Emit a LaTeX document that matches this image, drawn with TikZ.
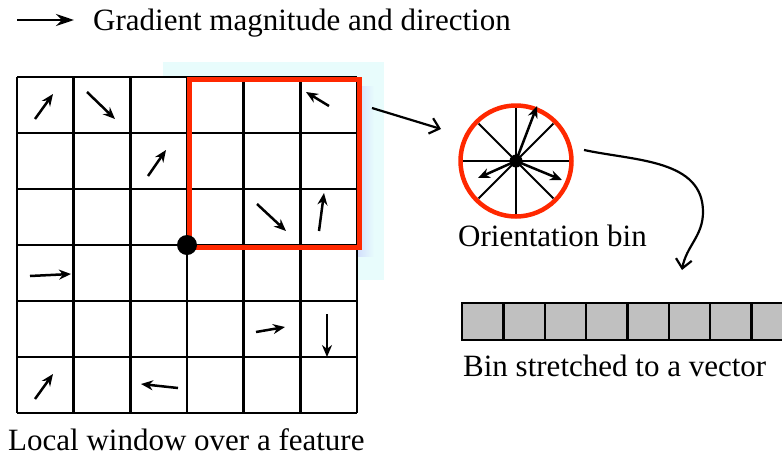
\documentclass[tikz,border=0pt]{standalone}
\usepackage{fontspec}
\setmainfont{Liberation Serif}
\usetikzlibrary{arrows.meta}
\definecolor{boxred}{RGB}{255,40,0}
\definecolor{bgcyan}{RGB}{232,252,252}
\definecolor{shadowblue}{RGB}{210,222,252}
\definecolor{binfill}{RGB}{192,192,192}
\begin{document}
\begin{tikzpicture}[x=1pt,y=-1pt,
  lbl/.style={font=\fontsize{31}{36}\selectfont, inner sep=0, anchor=base west},
  grad/.style={line width=2.5, -{Stealth[length=12,width=10]}},
  gridline/.style={line width=2.6},
  flow/.style={line width=2.2, -{Straight Barb[length=9,width=16]}},
  binbox/.style={draw, fill=binfill, line width=2.4, minimum width=41.3, minimum height=37, inner sep=0, anchor=north west}]
\useasboundingbox (0,0) rectangle (782,456);
\begin{scope}
\clip (0,0) rectangle (782,456);
% legend
\coordinate (lgs) at (17,20);
\coordinate (lge) at (74,20);
\draw[line width=2.6, -{Stealth[length=18,width=12]}] (lgs) -- (lge);
\node[lbl] (legend) at (93,30) {Gradient magnitude and direction};
% background highlight
\fill[bgcyan] (163,62) rectangle (384,280);
\shade[left color=shadowblue, right color=bgcyan] (357,86) rectangle (374,256);
% grid
\fill[white] (17,77) rectangle (357,413);
\foreach \i in {0,...,6} {
  \draw[gridline] ({17+\i*56.67},77) -- ({17+\i*56.67},413);
  \draw[gridline] (17,{77+\i*56}) -- (357,{77+\i*56});
}
% gradient arrows
\draw[grad] (35,119) -- (53,94);
\draw[grad] (87,92) -- (115,119);
\draw[grad] (329,106) -- (306,92);
\draw[grad] (148,176) -- (166,150);
\draw[grad] (257,204) -- (286,231);
\draw[grad] (319,231) -- (324,193);
\draw[grad] (30,276) -- (71,274);
\draw[grad] (256,332) -- (285,327);
\draw[grad] (327,314) -- (327,357);
\draw[grad] (35,399) -- (53,374);
\draw[grad] (178,388) -- (141,384);
% window
\node[draw=boxred, line width=4.5, minimum width=170, minimum height=168, inner sep=0, anchor=north west] (win) at (187,77) {};
\fill (187,245) circle (10);
\node[lbl] (wlabel) at (8,450) {Local window over a feature};
% orientation bin
\node[circle, draw=boxred, line width=4.5, minimum size=111, inner sep=0] (circ) at (516,161) {};
\foreach \a in {0,45,90,135}
  \draw[line width=2, shift={(circ.center)}] (\a:53) -- (\a+180:53);
\draw[grad] (circ.center) -- ++(21,-55);
\draw[grad] (circ.center) -- ++(-38,17);
\draw[grad] (circ.center) -- ++(46,19);
\fill (circ.center) circle (6.5);
\node[lbl] (clabel) at (458,246) {Orientation bin};
% connector window -> bin
\coordinate (a1s) at (372,108);
\coordinate (a1e) at (441,129);
\draw[flow] (a1s) -- (a1e);
% vector
\foreach \k in {0,...,7}
  \node[binbox] (b\k) at ({461+\k*41.3},302) {};
\node[lbl] (vlabel) at (463,376) {Bin stretched to a vector};
% connector bin -> vector
\coordinate (a2s) at (584,150);
\coordinate (a2m) at (703,212);
\coordinate (a2e) at (682,270);
\draw[flow] (a2s) to[out=-12,in=90] (a2m) to[out=-90,in=80] (a2e);
\end{scope}
\end{tikzpicture}
\end{document}
